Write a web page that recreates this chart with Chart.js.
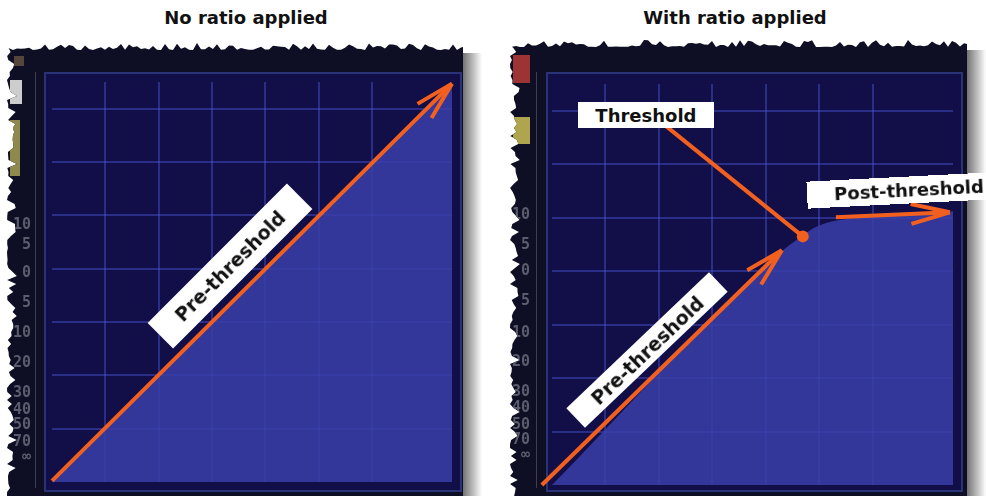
<!DOCTYPE html>
<html lang="en">
<head>
  <meta charset="UTF-8" />
  <title>Ratio</title>
  <script src="https://cdn.jsdelivr.net/npm/chart.js@4.4.0/dist/chart.umd.min.js"></script>
  <style>
    * {
      margin: 0;
      padding: 0;
    }

    body {
      width: 986px;
      height: 496px;
      position: relative;
      overflow: hidden;
      background: #fff;
      font-family: "DejaVu Sans", Verdana, sans-serif;
    }

    canvas {
      position: absolute;
      left: 0;
      top: 0;
    }

    .title {
      position: absolute;
      top: 8px;
      width: 300px;
      text-align: center;
      font-weight: bold;
      font-size: 18px;
      line-height: 20px;
      color: #111;
    }

    .tag {
      position: absolute;
      background: #fff;
      color: #111;
      font-weight: bold;
      display: flex;
      align-items: center;
      justify-content: center;
      white-space: nowrap;
    }
  </style>
</head>

<body>
  <div class="title" style="left:96px">No ratio applied</div>
  <div class="title" style="left:585px">With ratio applied</div>
  <canvas id="leftChart" width="986" height="496"></canvas>
  <canvas id="rightChart" width="986" height="496"></canvas>
  <script>
    // input / output level, in grid divisions (0 .. 7.5)
    const noRatioIn = [0, 7.5];
    const noRatioOut = [0, 7.5];
    const ratioIn = [0, 4.32, 4.6, 4.85, 5.1, 5.4, 7.5];
    const ratioOut = [0, 4.39, 4.6, 4.78, 4.89, 4.96, 5.12];

    // orange annotation arrows
    const leftArrowIn = [0, 7.5];
    const leftArrowOut = [0.02, 7.47];
    const preArrowIn = [-0.19, 4.3];
    const preArrowOut = [0, 4.39];
    const leaderIn = [2.11, 4.69];
    const leaderOut = [6.73, 4.65];
    const postArrowIn = [5.31, 7.44];
    const postArrowOut = [5.01, 5.1];
    const thresholdIn = [4.69];
    const thresholdOut = [4.65];

    // meter marks on the left strip
    const meterMarks = ["10", "5", "0", "5", "10", "20", "30", "40", "50", "70", "∞"];

    const orange = "#f2601f";
    const gridColor = "rgba(76, 86, 210, 0.45)";
    const fillColor = "rgba(58, 62, 168, 0.85)";

    const pts = (xs, ys) => xs.map((x, i) => ({ x: x, y: ys[i] }));

    function noise(i, seed) {
      const s = Math.sin(i * 12.9898 + seed * 78.233) * 43758.5453;
      return s - Math.floor(s);
    }

    // dark frame, meter strip and plot background
    function panelPlugin(cfg) {
      return {
        id: "panel",
        beforeDraw(chart) {
          const ctx = chart.ctx;
          ctx.save();
          // shadow on the right
          const g = ctx.createLinearGradient(cfg.right, 0, cfg.right + 19, 0);
          g.addColorStop(0, "rgba(0,0,0,0.55)");
          g.addColorStop(1, "rgba(0,0,0,0)");
          ctx.fillStyle = g;
          ctx.fillRect(cfg.right, cfg.top + 6, 19, 496);

          ctx.beginPath();
          ctx.moveTo(cfg.left, 496);
          for (let y = 496; y > cfg.top; y -= 4) {
            const n = noise(y, cfg.seed);
            ctx.lineTo(cfg.left + n * n * 10 - 2, y);
          }
          for (let x = cfg.left; x < cfg.right; x += 4) {
            const n = noise(x, cfg.seed + 1);
            ctx.lineTo(x, cfg.top + 3 - n * n * 7);
          }
          ctx.lineTo(cfg.right, cfg.top);
          ctx.lineTo(cfg.right, 496);
          ctx.closePath();
          ctx.fillStyle = "#0e0f24";
          ctx.fill();
          ctx.clip();

          cfg.buttons.forEach((b) => {
            ctx.fillStyle = b[4];
            ctx.fillRect(b[0], b[1], b[2], b[3]);
          });

          ctx.fillStyle = "#5b5c6c";
          ctx.font = "bold 15px 'DejaVu Sans Mono'";
          ctx.textAlign = "right";
          ctx.textBaseline = "middle";
          meterMarks.forEach((m, i) => {
            ctx.fillText(m, cfg.markX, cfg.markY[i]);
          });

          ctx.strokeStyle = "#3d3f4e";
          ctx.lineWidth = 1;
          ctx.beginPath();
          ctx.moveTo(cfg.divider + 0.5, 72);
          ctx.lineTo(cfg.divider + 0.5, 488);
          ctx.stroke();

          const b = cfg.border;
          ctx.fillStyle = "#120e48";
          ctx.fillRect(b[0], b[1], b[2] - b[0], b[3] - b[1]);
          ctx.strokeStyle = "#2b3377";
          ctx.lineWidth = 2;
          ctx.strokeRect(b[0], b[1], b[2] - b[0], b[3] - b[1]);
          ctx.restore();
        },
      };
    }

    // open arrow heads at the last point of datasets flagged arrowHead
    const arrowPlugin = {
      id: "arrows",
      afterDatasetsDraw(chart) {
        const ctx = chart.ctx;
        chart.data.datasets.forEach((ds, i) => {
          if (!ds.arrowHead) return;
          const pts = chart.getDatasetMeta(i).data;
          const a = pts[pts.length - 2];
          const b = pts[pts.length - 1];
          const back = Math.atan2(a.y - b.y, a.x - b.x);
          ctx.save();
          ctx.strokeStyle = ds.borderColor;
          ctx.lineWidth = ds.borderWidth;
          ctx.beginPath();
          [-0.25, 0.25].forEach((d) => {
            ctx.moveTo(b.x, b.y);
            ctx.lineTo(b.x + 40 * Math.cos(back + d), b.y + 40 * Math.sin(back + d));
          });
          ctx.stroke();
          ctx.restore();
        });
      },
    };

    const axis = {
      type: "linear",
      min: 0,
      max: 7.5,
      ticks: { display: false, stepSize: 1 },
      grid: {
        drawTicks: false,
        lineWidth: 2,
        color: (c) =>
          c.tick && (c.tick.value === 0 || c.tick.value === 7.5) ? "rgba(0,0,0,0)" : gridColor,
      },
      border: { display: false },
    };

    // area under the transfer curve, drawn beneath the arrows
    function areaSet(data, smooth) {
      return {
        data: data,
        order: 10,
        fill: "origin",
        backgroundColor: fillColor,
        borderWidth: 0,
        pointRadius: 0,
        cubicInterpolationMode: smooth ? "monotone" : "default",
      };
    }

    function arrowSet(data, head) {
      return {
        data: data,
        order: 1,
        borderColor: orange,
        borderWidth: 4,
        pointRadius: 0,
        fill: false,
        clip: false,
        arrowHead: head,
      };
    }

    function makeChart(id, pad, datasets, panel) {
      return new Chart(document.getElementById(id), {
        type: "line",
        data: { datasets: datasets },
        options: {
          responsive: false,
          animation: false,
          events: [],
          layout: { padding: pad },
          scales: { x: axis, y: axis },
          plugins: { legend: { display: false }, tooltip: { enabled: false } },
        },
        plugins: [panelPlugin(panel), arrowPlugin],
      });
    }

    const leftChart = makeChart(
      "leftChart",
      { left: 52, top: 82, right: 534, bottom: 14 },
      [areaSet(pts(noRatioIn, noRatioOut), false), arrowSet(pts(leftArrowIn, leftArrowOut), true)],
      {
        left: 9, right: 463, top: 47, seed: 3, divider: 35, markX: 31,
        markY: [225, 245, 273, 303, 333, 363, 393, 410, 425, 442, 457],
        border: [45, 73, 461, 491],
        buttons: [[14, 56, 10, 10, "#54463a"], [10, 80, 12, 24, "#cdcdcd"], [10, 120, 10, 56, "#8e894c"]],
      }
    );

    const rightChart = makeChart(
      "rightChart",
      { left: 552, top: 84, right: 33, bottom: 11 },
      [
        areaSet(pts(ratioIn, ratioOut), true),
        arrowSet(pts(preArrowIn, preArrowOut), true),
        arrowSet(pts(leaderIn, leaderOut), false),
        arrowSet(pts(postArrowIn, postArrowOut), true),
        {
          data: pts(thresholdIn, thresholdOut),
          order: 0,
          showLine: false,
          pointRadius: 6,
          pointBackgroundColor: orange,
          pointBorderWidth: 0,
          clip: false,
        },
      ],
      {
        left: 512, right: 967, top: 44, seed: 7, divider: 536, markX: 530,
        markY: [215, 245, 271, 301, 333, 362, 392, 408, 425, 440, 455],
        border: [547, 73, 962, 491],
        buttons: [[513, 55, 17, 28, "#9c3434"], [513, 117, 17, 27, "#aea54e"]],
      }
    );

    // white label boxes, anchored in data units
    const tags = [
      [leftChart, "Pre-threshold", 3.34, 4.05, 197, 36, -45, 19],
      [rightChart, "Pre-threshold", 1.78, 2.52, 197, 27, -43.6, 19],
      [rightChart, "Threshold", 1.757, 6.92, 136, 26, 0, 18],
      [rightChart, "Post-threshold", 6.67, 5.51, 204, 27, -2.9, 18],
    ];

    tags.forEach((t) => {
      const el = document.createElement("div");
      el.className = "tag";
      el.textContent = t[1];
      el.style.left = t[0].scales.x.getPixelForValue(t[2]) + "px";
      el.style.top = t[0].scales.y.getPixelForValue(t[3]) + "px";
      el.style.width = t[4] + "px";
      el.style.height = t[5] + "px";
      el.style.fontSize = t[7] + "px";
      el.style.transform = "translate(-50%, -50%) rotate(" + t[6] + "deg)";
      document.body.appendChild(el);
    });
  </script>
</body>

</html>
